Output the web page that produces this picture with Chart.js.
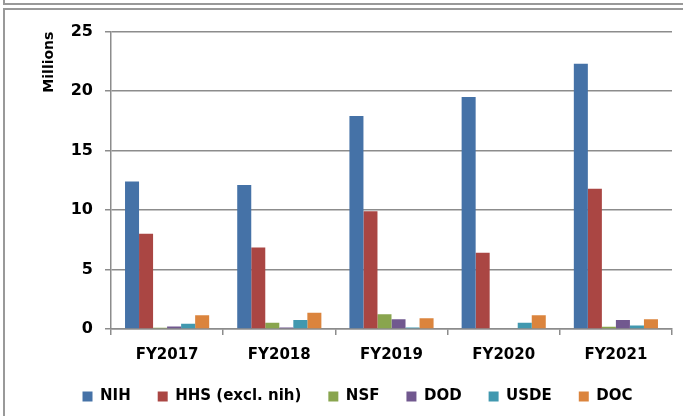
<!DOCTYPE html>
<html>
<head>
<meta charset="utf-8">
<script src="https://cdn.jsdelivr.net/npm/chart.js@4/dist/chart.umd.min.js"></script>
<style>
  html, body { margin: 0; padding: 0; background: #fff; overflow: hidden; }
  body { width: 683px; height: 416px; position: relative; }
  .prev { position: absolute; left: 3px; top: -20px; width: 720px; height: 21px; border: 2px solid #999; }
  .frame { position: absolute; left: 3px; top: 8px; width: 720px; height: 420px; border: 2px solid #999; }
  #chart { position: absolute; left: 5px; top: 10px; }
</style>
</head>
<body>
<div class="prev"></div>
<div class="frame"></div>
<canvas id="chart" width="705" height="406"></canvas>
<script>
// FY categories and funding per agency (millions)
const years = ['FY2017', 'FY2018', 'FY2019', 'FY2020', 'FY2021'];
const nih  = [12.4, 12.1, 17.9, 19.5, 22.3];
const hhs  = [8.0, 6.85, 9.9, 6.42, 11.8];
const nsf  = [0.1, 0.53, 1.24, 0, 0.19];
const dod  = [0.2, 0.13, 0.83, 0, 0.75];
const usde = [0.45, 0.75, 0.13, 0.53, 0.3];
const doc  = [1.15, 1.36, 0.91, 1.16, 0.83];
const yTicks = [0, 5, 10, 15, 20, 25];

const FONT = "'DejaVu Sans', Verdana, sans-serif";
const GRID = '#8c8c8c';

const series = [
  { label: 'NIH', data: nih, color: '#4572A7' },
  { label: 'HHS (excl. nih)', data: hhs, color: '#AA4643' },
  { label: 'NSF', data: nsf, color: '#89A54E' },
  { label: 'DOD', data: dod, color: '#71588F' },
  { label: 'USDE', data: usde, color: '#4198AF' },
  { label: 'DOC', data: doc, color: '#DB843D' }
];

new Chart(document.getElementById('chart'), {
  type: 'bar',
  data: {
    labels: years,
    datasets: series.map(s => ({
      label: s.label, data: s.data, backgroundColor: s.color, borderWidth: 0,
      categoryPercentage: 0.75, barPercentage: 1
    }))
  },
  options: {
    responsive: false,
    devicePixelRatio: 1,
    animation: false,
    layout: { padding: { left: 0, right: 0, top: 17, bottom: 2 } },
    plugins: {
      tooltip: { enabled: false },
      legend: {
        position: 'bottom',
        labels: { boxWidth: 10, boxHeight: 10, padding: 27, color: '#000', font: { family: FONT, size: 15, weight: 'bold' } }
      }
    },
    scales: {
      x: {
        grid: { display: true, drawOnChartArea: false, drawTicks: true, tickLength: 6, color: GRID, lineWidth: 1.5 },
        border: { color: GRID, width: 1.5 },
        ticks: { color: '#000', padding: 11, font: { family: FONT, size: 15, weight: 'bold' } },
        afterFit: s => { s.height = 33; }
      },
      y: {
        min: 0, max: 25,
        afterBuildTicks: s => { s.ticks = yTicks.map(v => ({ value: v })); },
        grid: { color: GRID, lineWidth: 1.5, tickLength: 6 },
        border: { color: GRID, width: 1.5 },
        ticks: { color: '#000', padding: 12, font: { family: FONT, size: 16, weight: 'bold' } },
        title: { display: true, text: 'Millions', align: 'end', color: '#000', padding: { top: 36, bottom: 0 }, font: { family: FONT, size: 14, weight: 'bold' } },
        afterFit: s => { s.width = 106; }
      },
      // empty right-hand spacer so the legend stays centred on the whole frame
      spacer: {
        position: 'right', display: true,
        grid: { display: false }, border: { display: false }, ticks: { display: false },
        afterFit: s => { s.width = 38; }
      }
    }
  }
});
</script>
</body>
</html>
